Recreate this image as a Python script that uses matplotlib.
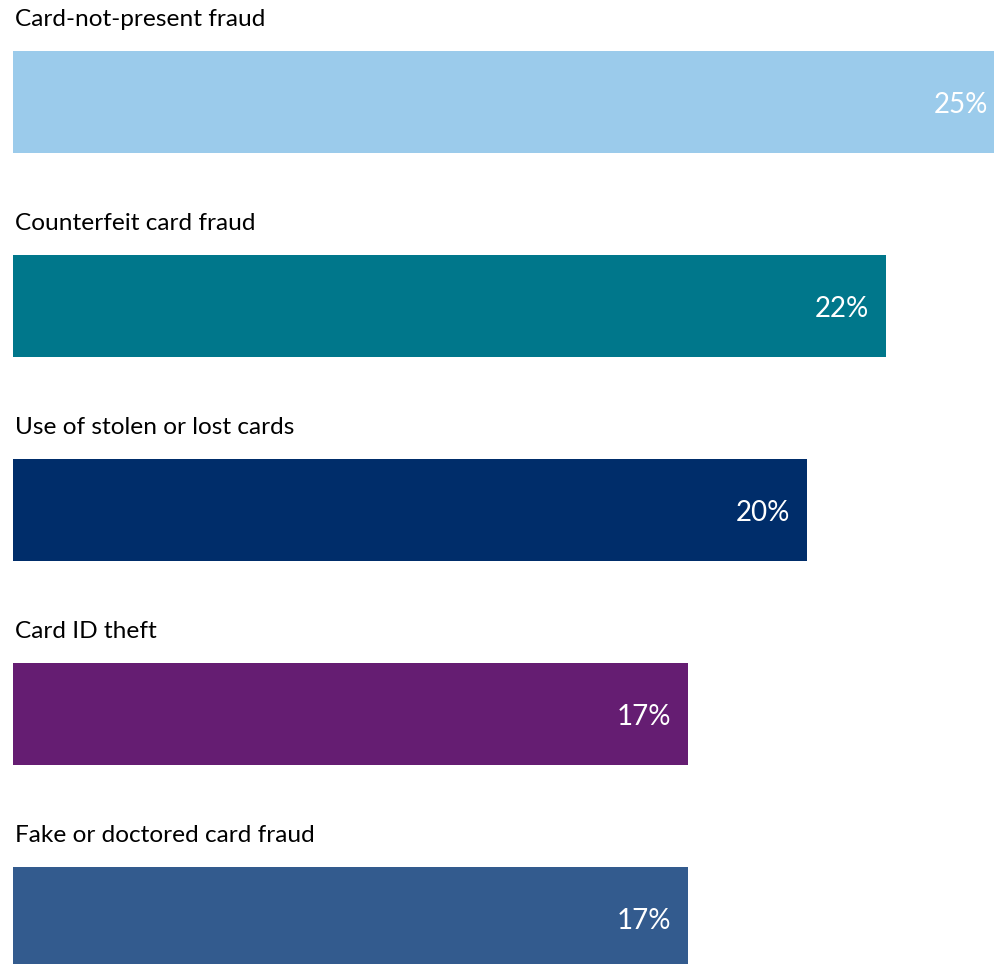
import matplotlib
matplotlib.use('Agg')
import matplotlib.pyplot as plt

categories = ['Card-not-present fraud', 'Counterfeit card fraud', 'Use of stolen or lost cards',
              'Card ID theft', 'Fake or doctored card fraud']
values = [25, 22, 20, 17, 17]
labels = ['25%', '22%', '20%', '17%', '17%']
colors = ['#9BCBEB', '#00778B', '#002D6A', '#651D72', '#335B8E']

plt.rcParams['font.family'] = ['Lato', 'DejaVu Sans']

fig = plt.figure(figsize=(9.95, 9.64), dpi=100)
ax = fig.add_axes([13 / 995, 0, 982 / 995, 1])

pos = list(range(len(categories)))
ax.barh(pos, values, height=0.5, color=colors)

for i, (cat, v, lab) in enumerate(zip(categories, values, labels)):
    ax.text(0.05, i - 0.405, cat, ha='left', va='center', fontsize=17.6, color='black')
    ax.text(v - 0.43, i + 0.015, lab, ha='right', va='center', fontsize=20, color='white')

ax.set_xlim(0, 24.74)
ax.set_ylim(4.225, -0.5)
ax.axis('off')

fig.savefig('out.png', dpi=100)
